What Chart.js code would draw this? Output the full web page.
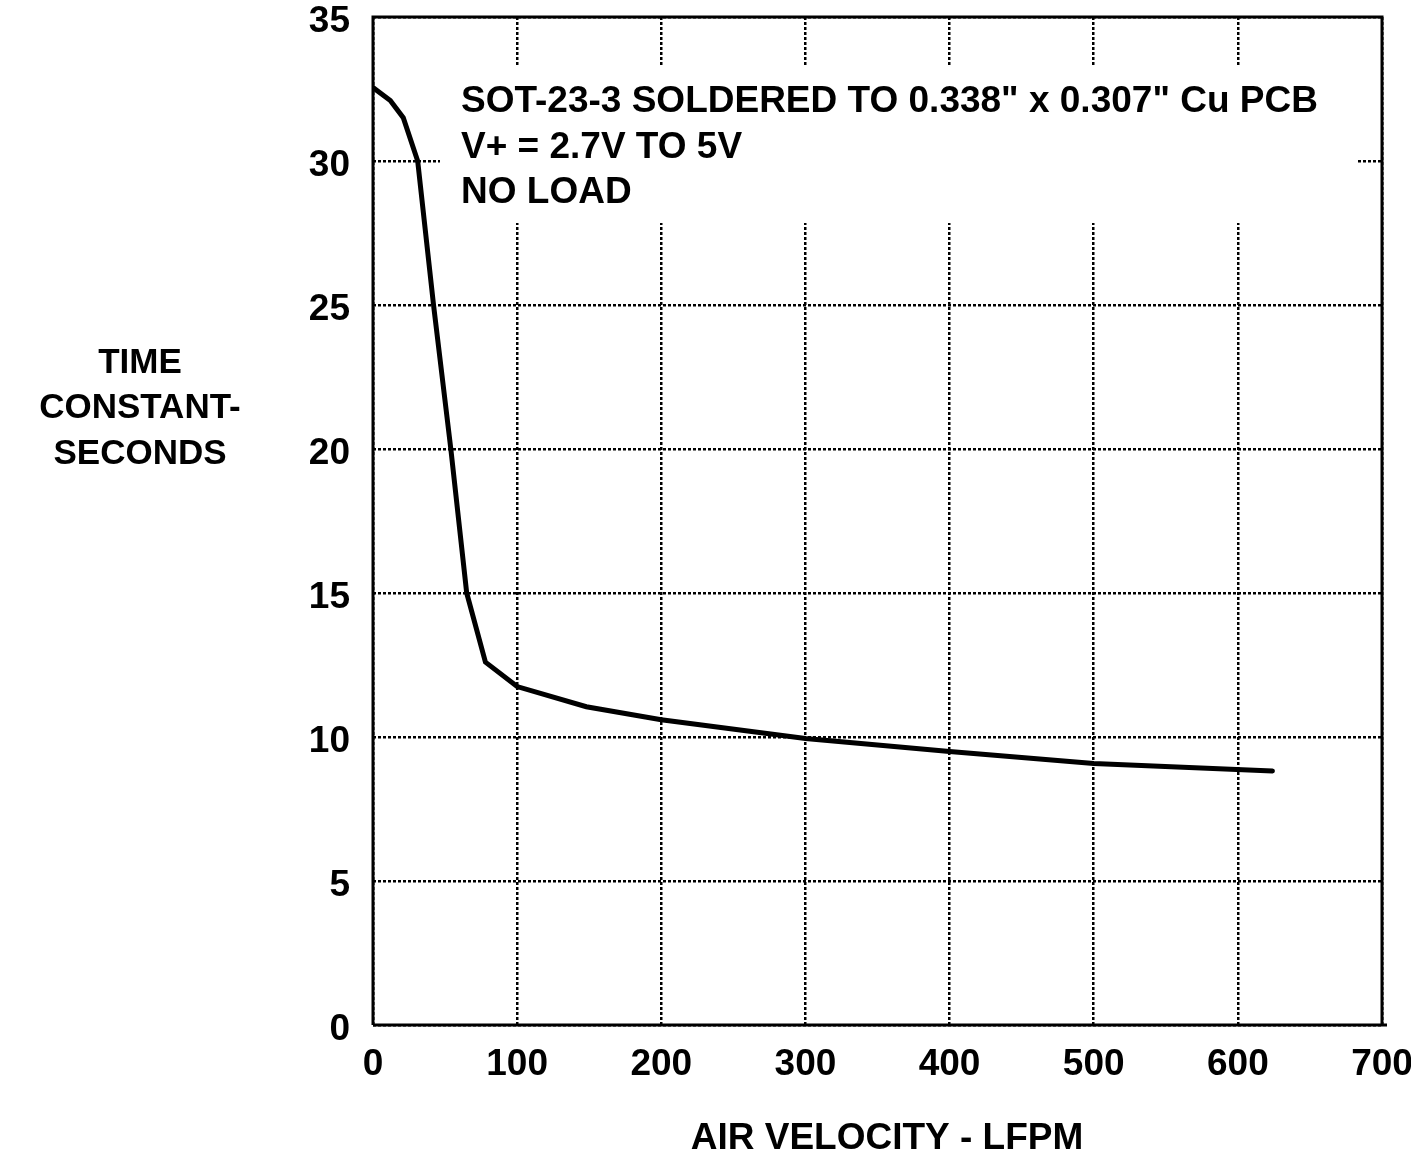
<!DOCTYPE html>
<html>
<head>
<meta charset="utf-8">
<script src="https://cdn.jsdelivr.net/npm/chart.js@4"></script>
<style>
  html, body { margin: 0; padding: 0; background: #fff; }
  #wrap { width: 1411px; height: 1157px; position: relative; }
</style>
</head>
<body>
<div id="wrap"><canvas id="myChart" width="1411" height="1157"></canvas></div>
<script>
// values
const airVelocity = [0, 12, 21, 31, 42, 54, 65, 78, 100, 148, 200, 300, 400, 500, 624];
const timeConstant = [32.55, 32.1, 31.5, 30.0, 25.0, 20.0, 15.0, 12.6, 11.75, 11.05, 10.6, 9.95, 9.5, 9.08, 8.82];
const xTicks = [0, 100, 200, 300, 400, 500, 600, 700];
const yTicks = [0, 5, 10, 15, 20, 25, 30, 35];
const noteLines = ['SOT-23-3 SOLDERED TO 0.338" x 0.307" Cu PCB', 'V+ = 2.7V TO 5V', 'NO LOAD'];
const yTitleLines = ['TIME', 'CONSTANT-', 'SECONDS'];
const xTitle = 'AIR VELOCITY - LFPM';

const FONT = '"Liberation Sans", Arial, sans-serif';
Chart.defaults.font.family = FONT;
Chart.defaults.font.size = 37;
Chart.defaults.font.weight = 'bold';
Chart.defaults.color = '#000';

const points = airVelocity.map((v, i) => ({ x: v, y: timeConstant[i] }));

const decor = {
    id: 'decor',
    beforeDatasetsDraw(chart) {
        const ctx = chart.ctx;
        ctx.save();
        // white box behind the note hides the grid there
        ctx.fillStyle = '#fff';
        ctx.fillRect(440, 67, 917, 156);
        ctx.fillStyle = '#000';
        ctx.font = 'bold 37px ' + FONT;
        ctx.textBaseline = 'middle';
        ctx.textAlign = 'left';
        noteLines.forEach((t, i) => ctx.fillText(t, 461, 102 + i * 45.5));
        ctx.restore();
    },
    afterDraw(chart) {
        const ctx = chart.ctx;
        const a = chart.chartArea;
        ctx.save();
        ctx.strokeStyle = '#000';
        ctx.lineWidth = 3;
        ctx.beginPath();
        ctx.moveTo(a.left, a.bottom);
        ctx.lineTo(a.left, a.top);
        ctx.lineTo(a.right, a.top);
        ctx.lineTo(a.right, a.bottom);
        ctx.moveTo(a.left, a.bottom);
        ctx.lineTo(a.right + 5, a.bottom);
        ctx.stroke();

        ctx.fillStyle = '#000';
        ctx.font = 'bold 35px ' + FONT;
        ctx.textAlign = 'center';
        ctx.textBaseline = 'middle';
        yTitleLines.forEach((t, i) => ctx.fillText(t, 140, 363 + i * 45.5));
        ctx.font = 'bold 37px ' + FONT;
        ctx.fillText(xTitle, 887, 1139);
        ctx.restore();
    }
};

new Chart(document.getElementById('myChart').getContext('2d'), {
    type: 'line',
    data: {
        datasets: [{
            data: points,
            borderColor: '#000',
            borderWidth: 5,
            borderCapStyle: 'round',
            pointRadius: 0,
            tension: 0,
            fill: false
        }]
    },
    options: {
        responsive: false,
        animation: false,
        layout: { padding: { top: 17, right: 29, left: 0, bottom: 0 } },
        plugins: {
            legend: { display: false },
            tooltip: { enabled: false }
        },
        scales: {
            x: {
                type: 'linear',
                min: 0,
                max: 700,
                afterFit(scale) {
                    scale.height = 132;
                    scale.paddingLeft = 0;
                    scale.paddingRight = 0;
                },
                afterBuildTicks(scale) { scale.ticks = xTicks.map(v => ({ value: v })); },
                ticks: { padding: 18, maxRotation: 0, autoSkip: false },
                grid: { color: '#000', lineWidth: 2.5, drawTicks: false },
                border: { display: false, dash: [3, 2] }
            },
            y: {
                type: 'linear',
                min: 0,
                max: 35,
                afterFit(scale) {
                    scale.width = 373;
                    scale.paddingTop = 0;
                    scale.paddingBottom = 0;
                },
                afterBuildTicks(scale) { scale.ticks = yTicks.map(v => ({ value: v })); },
                ticks: { padding: 23, labelOffset: 5, autoSkip: false },
                grid: { color: '#000', lineWidth: 2.5, drawTicks: false },
                border: { display: false, dash: [3, 2] }
            }
        }
    },
    plugins: [decor]
});
</script>
</body>
</html>
